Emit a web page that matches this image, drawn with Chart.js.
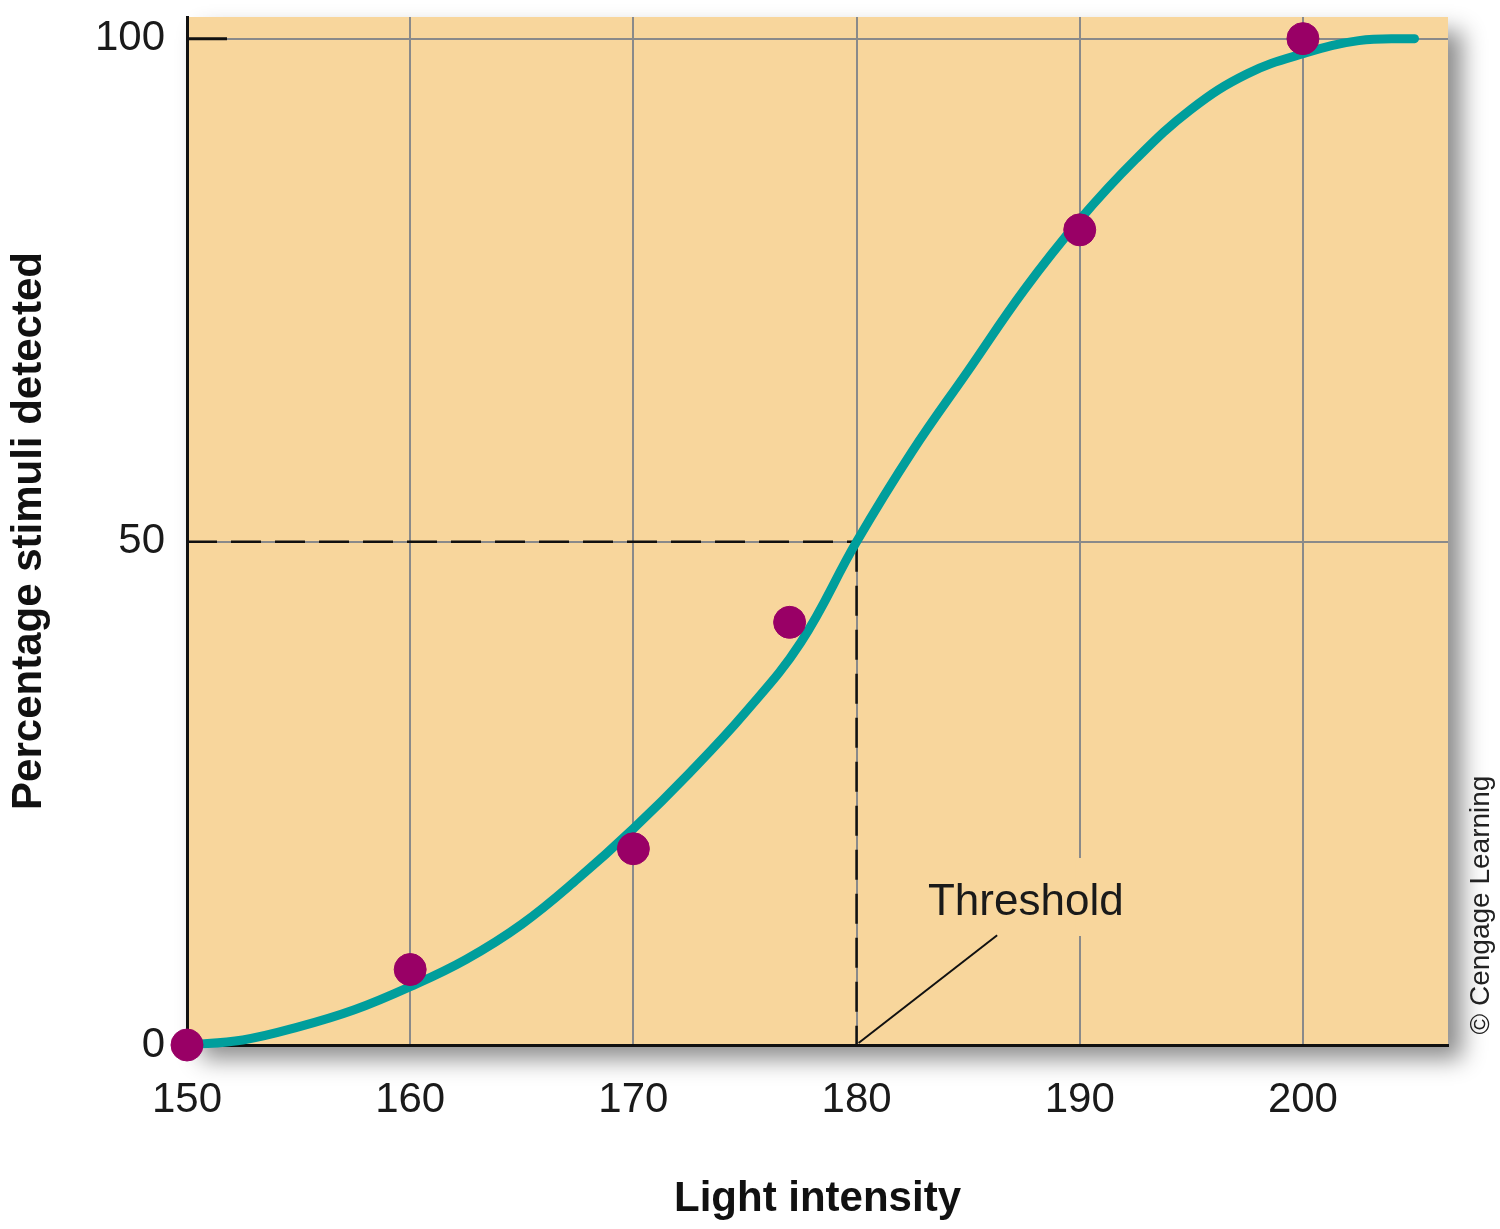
<!DOCTYPE html>
<html>
<head>
<meta charset="utf-8">
<script src="https://cdn.jsdelivr.net/npm/chart.js@4/dist/chart.umd.min.js"></script>
<style>
  html, body { margin: 0; padding: 0; background: #fff; }
  #wrap { width: 1500px; height: 1229px; }
</style>
</head>
<body>
<div id="wrap"><canvas id="psy"></canvas></div>
<script>
// observed data points
const pointX = [150, 160, 170, 177, 190, 200];
const pointY = [0, 7.5, 19.5, 42, 81, 100];

// fitted psychometric curve
const curveX = [150, 152.5, 155, 157.5, 160, 162.5, 165, 167.5, 170, 172.5, 175, 177.5, 180,
                182.5, 185, 187.5, 190, 192.5, 195, 197.5, 200, 202.5, 205];
const curveY = [0, 0.5, 1.8, 3.5, 5.8, 8.5, 12, 16.5, 21.5, 27, 33, 40, 50,
                59, 67, 75, 82, 88, 93, 96.5, 98.5, 99.8, 100];

const xTicks = [150, 160, 170, 180, 190, 200];
const yTicks = [0, 50, 100];
const threshold = 180;

const bg = '#f8d69c';

const extras = {
    id: 'extras',
    beforeDraw(chart) {
        const { ctx, chartArea: a } = chart;
        ctx.save();
        ctx.shadowColor = 'rgba(0,0,0,0.45)';
        ctx.shadowBlur = 22;
        ctx.shadowOffsetX = 14;
        ctx.shadowOffsetY = 14;
        ctx.fillStyle = bg;
        ctx.fillRect(a.left, a.top, a.right - a.left, a.bottom - a.top);
        ctx.restore();
    },
    beforeDatasetsDraw(chart) {
        const { ctx, scales: { x, y } } = chart;
        ctx.save();
        // gap in the 190 grid line behind the label
        ctx.fillStyle = bg;
        ctx.fillRect(x.getPixelForValue(190) - 4, 858, 8, 78);
        // dashed threshold guides
        ctx.strokeStyle = '#111';
        ctx.lineWidth = 2.5;
        ctx.setLineDash([30, 14]);
        ctx.beginPath();
        ctx.moveTo(x.getPixelForValue(150), y.getPixelForValue(50));
        ctx.lineTo(x.getPixelForValue(threshold), y.getPixelForValue(50));
        ctx.moveTo(x.getPixelForValue(threshold), y.getPixelForValue(50));
        ctx.lineTo(x.getPixelForValue(threshold), y.getPixelForValue(0));
        ctx.stroke();
        ctx.setLineDash([]);
        // pointer line to label
        ctx.lineWidth = 2;
        ctx.beginPath();
        ctx.moveTo(x.getPixelForValue(threshold) + 2, y.getPixelForValue(0) - 2);
        ctx.lineTo(x.getPixelForValue(186.3), y.getPixelForValue(10.9));
        ctx.stroke();
        // short tick at 100
        ctx.lineWidth = 3;
        ctx.beginPath();
        ctx.moveTo(x.left, y.getPixelForValue(100));
        ctx.lineTo(x.left + 40, y.getPixelForValue(100));
        ctx.stroke();
        ctx.fillStyle = '#1a1a1a';
        ctx.font = '44px "Liberation Sans", Arial, sans-serif';
        ctx.textAlign = 'left';
        ctx.textBaseline = 'middle';
        ctx.fillText('Threshold', x.getPixelForValue(183.2), y.getPixelForValue(14.1));
        ctx.restore();
    },
    afterDraw(chart) {
        const { ctx } = chart;
        ctx.save();
        ctx.translate(1481, 905);
        ctx.rotate(-Math.PI / 2);
        ctx.fillStyle = '#222';
        ctx.font = '28px "Liberation Sans", Arial, sans-serif';
        ctx.textAlign = 'center';
        ctx.textBaseline = 'middle';
        ctx.fillText('© Cengage Learning', 0, 0);
        ctx.restore();
    }
};

const tickFont = { family: '"Liberation Sans", Arial, sans-serif', size: 42 };
const titleFont = { family: '"Liberation Sans", Arial, sans-serif', size: 42, weight: 'bold' };

new Chart(document.getElementById('psy'), {
    type: 'scatter',
    data: {
        datasets: [
            {
                label: 'Observed',
                data: pointX.map((v, i) => ({ x: v, y: pointY[i] })),
                backgroundColor: '#990066',
                borderColor: '#990066',
                pointRadius: 16,
                clip: false
            },
            {
                label: 'Curve',
                type: 'line',
                data: curveX.map((v, i) => ({ x: v, y: curveY[i] })),
                borderColor: '#009e9c',
                borderWidth: 9,
                pointRadius: 0,
                tension: 0.4,
                borderCapStyle: 'round',
                clip: false
            }
        ]
    },
    options: {
        responsive: true,
        maintainAspectRatio: false,
        animation: false,
        layout: { padding: { left: 0, right: 52, top: 0, bottom: 0 } },
        plugins: { legend: { display: false }, tooltip: { enabled: false } },
        scales: {
            x: {
                type: 'linear',
                min: 150,
                max: 206.5,
                afterBuildTicks: (s) => { s.ticks = xTicks.map((v) => ({ value: v })); },
                afterFit: (s) => { s.height = 184; s.paddingRight = 0; },
                ticks: { font: tickFont, color: '#1a1a1a', padding: 30 },
                grid: { color: '#8a8a8a', lineWidth: 2, drawTicks: false },
                border: { color: '#111', width: 3 },
                title: { display: true, text: 'Light intensity', font: titleFont, color: '#111', padding: { top: 30 } }
            },
            y: {
                min: 0,
                max: 102.15,
                afterBuildTicks: (s) => { s.ticks = yTicks.map((v) => ({ value: v })); },
                afterFit: (s) => { s.width = 187; s.paddingTop = 0; s.paddingBottom = 0; },
                ticks: { font: tickFont, color: '#1a1a1a', padding: 22 },
                grid: {
                    color: (c) => c.tick && c.tick.value === 0 ? 'rgba(0,0,0,0)' : '#8a8a8a',
                    lineWidth: 2,
                    drawTicks: false
                },
                border: { color: '#111', width: 3 },
                title: { display: true, text: 'Percentage stimuli detected', font: titleFont, color: '#111', padding: { bottom: 10 } }
            }
        }
    },
    plugins: [extras]
});
</script>
</body>
</html>
